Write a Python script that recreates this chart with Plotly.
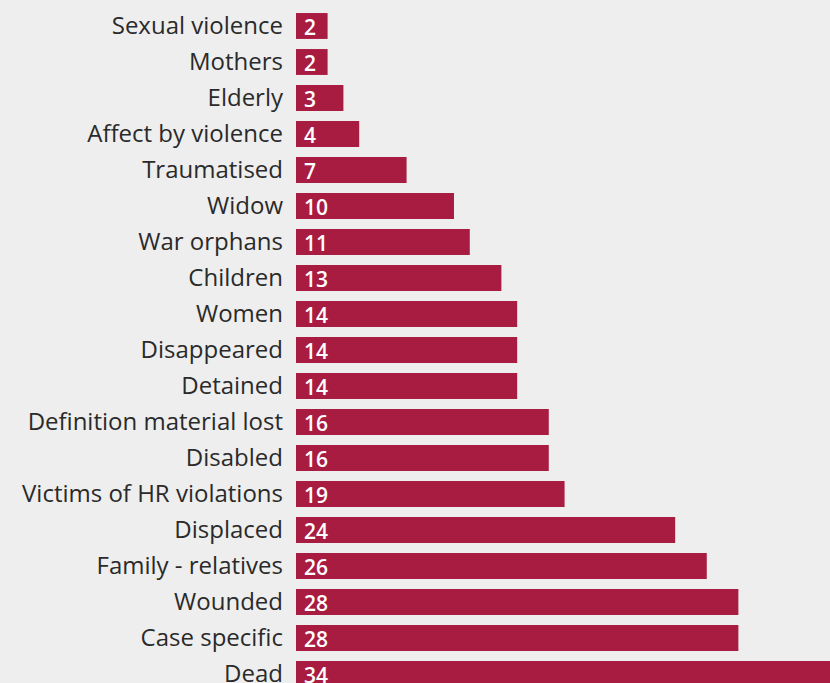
import plotly.graph_objects as go

categories = ["Sexual violence", "Mothers", "Elderly", "Affect by violence", "Traumatised",
              "Widow", "War orphans", "Children", "Women", "Disappeared", "Detained",
              "Definition material lost", "Disabled", "Victims of HR violations", "Displaced",
              "Family - relatives", "Wounded", "Case specific", "Dead"]
# value labels printed on the bars
value_labels = [2, 2, 3, 4, 7, 10, 11, 13, 14, 14, 14, 16, 16, 19, 24, 26, 28, 28, 34]
# bar lengths as drawn in the picture (the "19" bar is drawn at about 17)
bar_lengths = [2, 2, 3, 4, 7, 10, 11, 13, 14, 14, 14, 16, 16, 17, 24, 26, 28, 28, 34]

BAR = "#a91c42"
BG = "#eeeeee"
FONT = "Open Sans"

fig = go.Figure(go.Bar(
    x=bar_lengths, y=list(range(len(categories))), orientation="h",
    marker=dict(color=BAR, line=dict(width=0)), width=0.72,
    hoverinfo="skip",
))

for i, v in enumerate(value_labels):
    fig.add_annotation(x=0, y=i, text=str(v), showarrow=False, xanchor="left",
                       xshift=6, yshift=-1,
                       font=dict(family=FONT, size=21, color="white", weight=600))

fig.update_layout(
    width=830, height=683,
    margin=dict(l=296, r=0, t=0, b=0, autoexpand=False),
    paper_bgcolor=BG, plot_bgcolor=BG,
    showlegend=False,
    xaxis=dict(range=[0, 33.8], visible=False, fixedrange=True),
    yaxis=dict(range=[18.25, -0.722], tickmode="array",
               tickvals=list(range(len(categories))), ticktext=categories,
               showgrid=False, zeroline=False, showline=False, ticks="",
               ticklabelstandoff=12, automargin=False, ticklabeloverflow="allow",
               tickfont=dict(family=FONT, size=24, color="#2a2a2a")),
)

fig.write_html("out.html")
